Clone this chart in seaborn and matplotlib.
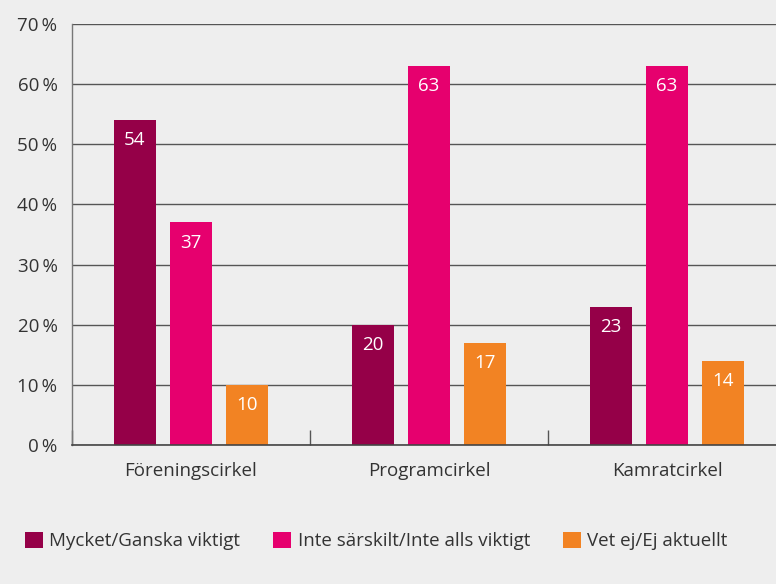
import matplotlib
matplotlib.use("Agg")
import matplotlib.pyplot as plt
import seaborn as sns
import pandas as pd

categories = ["Föreningscirkel", "Programcirkel", "Kamratcirkel"]
series = ["Mycket/Ganska viktigt", "Inte särskilt/Inte alls viktigt", "Vet ej/Ej aktuellt"]
mycket = [54, 20, 23]
inte = [37, 63, 63]
vet_ej = [10, 17, 14]
yticks = [0, 10, 20, 30, 40, 50, 60, 70]
colors = ["#950048", "#e6006e", "#f28323"]

rows = []
for name, vals in zip(series, [mycket, inte, vet_ej]):
    for c, v in zip(categories, vals):
        rows.append({"cat": c, "serie": name, "val": v})
df = pd.DataFrame(rows)

sns.set_theme(style="white")
plt.rcParams["font.family"] = ["Open Sans", "DejaVu Sans"]
bg = "#eeeeee"
txt = "#333333"
fs = 13.5

fig = plt.figure(figsize=(7.76, 5.84), dpi=100, facecolor=bg)
ax = fig.add_axes([72 / 776, 139 / 584, 1 - 72 / 776, (445 - 24) / 584])
ax.set_facecolor(bg)

sns.barplot(data=df, x="cat", y="val", hue="serie", order=categories,
            hue_order=series, palette=colors, width=0.71, gap=0.26,
            saturation=1, linewidth=0, ax=ax, legend=True)

for cont in ax.containers:
    ax.bar_label(cont, labels=[f"{int(v)}" for v in cont.datavalues],
                 padding=-21, color="white", fontsize=fs)

ax.set_ylim(0, 70)
ax.set_xlim(-0.5, 2.5 - 10 / 238)
ax.set_yticks(yticks)
ax.set_yticklabels([f"{v}\u2009%" for v in yticks])
ax.yaxis.grid(True, color="#555555", linewidth=1)
ax.set_axisbelow(True)
ax.tick_params(axis="y", length=0, pad=10.5, labelsize=fs, labelcolor=txt)
ax.tick_params(axis="x", which="major", length=0, pad=12, labelsize=fs, labelcolor=txt)
ax.set_xticks([-0.5, 0.5, 1.5], minor=True)
ax.tick_params(axis="x", which="minor", bottom=True, direction="in", length=11,
               width=1, color="#555555")
ax.set_xlabel("")
ax.set_ylabel("")
for s in ["top", "right"]:
    ax.spines[s].set_visible(False)
ax.spines["left"].set_color("#777777")
ax.spines["bottom"].set_color("#444444")
ax.spines["left"].set_linewidth(1)
ax.spines["bottom"].set_linewidth(1.2)

handles, labels = ax.get_legend_handles_labels()
ax.legend_.remove()
fig.legend(handles, labels, loc="center left", bbox_to_anchor=(25 / 776, 43 / 584),
           ncol=3, frameon=False, fontsize=fs, handlelength=0.95, handleheight=0.95,
           handletextpad=0.35, columnspacing=1.75, borderpad=0, borderaxespad=0,
           labelcolor=txt)

fig.savefig("out.png", dpi=100, facecolor=bg)
